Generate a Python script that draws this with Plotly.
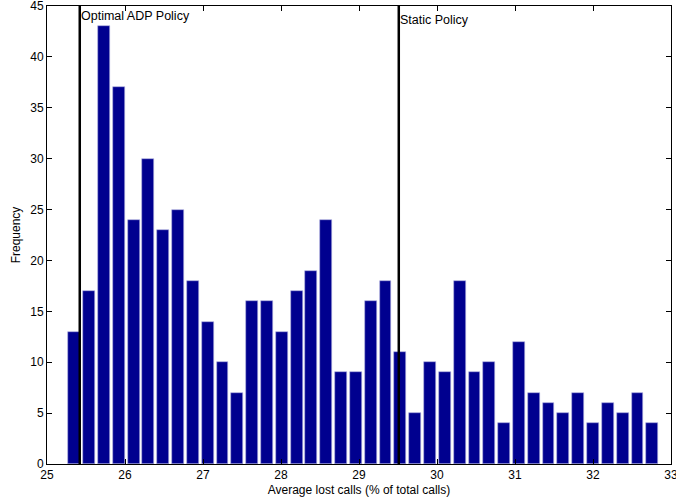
import plotly.graph_objects as go

# Histogram bin centres (% of total calls) and counts
bin_centers = [25.35, 25.54, 25.73, 25.92, 26.11, 26.30, 26.49, 26.68, 26.87, 27.06,
               27.25, 27.44, 27.63, 27.82, 28.01, 28.20, 28.39, 28.58, 28.77, 28.96,
               29.15, 29.34, 29.53, 29.72, 29.91, 30.10, 30.29, 30.48, 30.67, 30.86,
               31.05, 31.24, 31.43, 31.62, 31.81, 32.00, 32.19, 32.38, 32.57, 32.76]
frequency = [13, 17, 43, 37, 24, 30, 23, 25, 18, 14,
             10, 7, 16, 16, 13, 17, 19, 24, 9, 9,
             16, 18, 11, 5, 10, 9, 18, 9, 10, 4,
             12, 7, 6, 5, 7, 4, 6, 5, 7, 4]

# Reference policies
policy_names = ["Optimal ADP Policy", "Static Policy"]
policy_values = [25.42, 29.51]
policy_label_y = [44.05, 43.6]

x_ticks = [25, 26, 27, 28, 29, 30, 31, 32, 33]
y_ticks = [0, 5, 10, 15, 20, 25, 30, 35, 40, 45]

fig = go.Figure()
fig.add_trace(go.Bar(
    x=bin_centers, y=frequency, width=0.152,
    marker=dict(color="#00008F", line=dict(color="#b0b0e0", width=0.6)),
    showlegend=False,
))

for name, xv, ly in zip(policy_names, policy_values, policy_label_y):
    fig.add_shape(type="line", x0=xv, x1=xv, y0=0, y1=45, xref="x", yref="y",
                  line=dict(color="black", width=2.5), layer="above")
    fig.add_annotation(x=xv, y=ly, xref="x", yref="y", text=name, showarrow=False,
                       xanchor="left", yanchor="middle", xshift=-1,
                       font=dict(size=12.5, color="black", family="Liberation Sans"))

axis_common = dict(
    showline=True, linecolor="black", linewidth=1, mirror="ticks",
    ticks="inside", ticklen=5, tickcolor="black", tickwidth=1,
    showgrid=False, zeroline=False, ticklabeloverflow="allow", automargin=False,
    tickfont=dict(size=12, color="black", family="Liberation Sans"),
)

fig.update_layout(
    width=676, height=504,
    margin=dict(l=47, r=5, t=6, b=40),
    plot_bgcolor="white", paper_bgcolor="white",
    font=dict(family="Liberation Sans", size=12, color="black"),
    bargap=0,
    xaxis=dict(range=[25, 33], tickvals=x_ticks,
               title=dict(text="Average lost calls (% of total calls)", standoff=4,
                          font=dict(size=12)),
               **axis_common),
    yaxis=dict(range=[0, 45], tickvals=y_ticks,
               title=dict(text="Frequency", standoff=7, font=dict(size=12)),
               **axis_common),
)

fig.write_html("out.html")
